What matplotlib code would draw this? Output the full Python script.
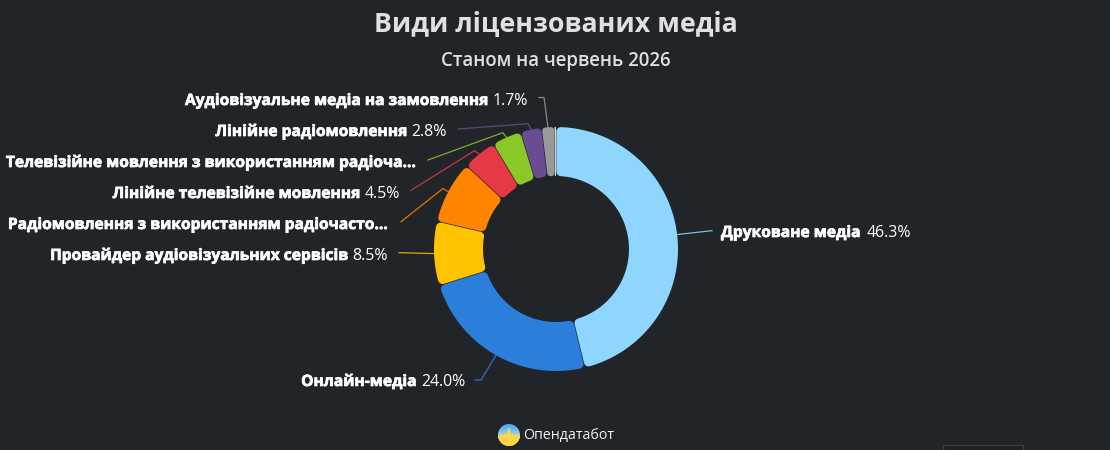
import math
import numpy as np
import matplotlib
matplotlib.use('Agg')
import matplotlib.pyplot as plt
import matplotlib.patheffects as pe
from matplotlib.colors import LinearSegmentedColormap
from matplotlib.patches import Circle, Polygon, Rectangle

BG = '#212429'
plt.rcParams['font.family'] = ['Open Sans', 'DejaVu Sans']

categories = [
    'Друковане медіа',
    'Онлайн-медіа',
    'Провайдер аудіовізуальних сервісів',
    'Радіомовлення з використанням радіочасто...',
    'Лінійне телевізійне мовлення',
    'Телевізійне мовлення з використанням радіоча...',
    'Лінійне радіомовлення',
    'Аудіовізуальне медіа на замовлення',
    'Інше',
]
shares = [46.3, 24.0, 8.5, 8.3, 4.5, 3.9, 2.8, 1.7, 0.2]
show_share = [True, True, True, False, True, False, True, True, False]
colors = ['#8fd6ff', '#2b7fdb', '#ffc300', '#ff8500', '#e63946',
          '#8ac926', '#6a4c93', '#999999', '#d9d9d9']

# label baseline anchor (x, y) per slice, and the leader polyline from label to ring
label_pos = [(721, 237), (465, 386), (388, 260), (388, 229), (400, 198),
             (416, 167), (447, 136), (528, 105), None]
leaders = [
    [(712, 230.7)],
    [(475, 380), (481, 380)],
    [(399, 252.7)],
    [(401, 221.7), (443, 188.5)],
    [(411, 190.3), (474.5, 150.7)],
    [(428, 160), (502.7, 132.7)],
    [(458, 129), (528.3, 123.7)],
    [(539, 97.5), (544, 97.5)],
    None,
]

CX, CY = 556, 249
R_OUT, R_IN = 122, 73
CORNER = 4.5
NAME_SIZE = 11.2
VALUE_SIZE = 11.4


def ring_point(angle, r):
    return CX + r * math.cos(angle), CY + r * math.sin(angle)


def rounded_slice(a1, a2):
    # inset outline; a thick round-joined edge brings it back to full size
    half = (a2 - a1) * R_IN / 2
    gap = min(0.35, 0.15 * half)
    rc = min(CORNER, max((half - gap) * 0.9, 0.2))
    off = rc + gap
    ro, ri = R_OUT - rc, R_IN + rc
    do, di = math.asin(off / ro), math.asin(off / ri)
    outer = np.linspace(a1 + do, a2 - do, 60)
    inner = np.linspace(a2 - di, a1 + di, 40)
    pts = [ring_point(a, ro) for a in outer] + [ring_point(a, ri) for a in inner]
    return pts, rc


def name_text(x, y, s, ha):
    t = ax.text(x, y, s, ha=ha, va='baseline', color='white', fontsize=NAME_SIZE,
                fontweight='bold', zorder=5)
    t.set_path_effects([pe.withStroke(linewidth=0.5, foreground='white')])
    return t


fig = plt.figure(figsize=(11.1, 4.5), dpi=100, facecolor=BG)
ax = fig.add_axes([0, 0, 1, 1])
ax.set_xlim(0, 1110)
ax.set_ylim(450, 0)
ax.axis('off')

edges = np.cumsum([0] + shares) / sum(shares) * 2 * math.pi - math.pi / 2

for i, c in enumerate(colors):
    pts, rc = rounded_slice(edges[i], edges[i + 1])
    ax.add_patch(Polygon(pts, closed=True, facecolor=c, edgecolor=c,
                         linewidth=2 * rc * 72 / 100, joinstyle='round', zorder=3))

    if leaders[i] is None:
        continue
    end = ring_point((edges[i] + edges[i + 1]) / 2, R_OUT)
    line = leaders[i] + [end]
    ax.plot([p[0] for p in line], [p[1] for p in line], color=c, lw=0.9,
            alpha=0.85, zorder=2, solid_joinstyle='miter')

# data labels: bold name plus regular percentage
renderer = fig.canvas.get_renderer()
for i, pos in enumerate(label_pos):
    if pos is None:
        continue
    x, y = pos
    value = '%.1f%%' % shares[i]
    if x > CX:
        w = name_text(x, y, categories[i], 'left').get_window_extent(renderer).width
        ax.text(x + w + 6, y, value, ha='left', va='baseline', color='white',
                fontsize=VALUE_SIZE, zorder=5)
    elif show_share[i]:
        val = ax.text(x, y, value, ha='right', va='baseline', color='white',
                      fontsize=VALUE_SIZE, zorder=5)
        w = val.get_window_extent(renderer).width
        name_text(x - w - 4, y, categories[i], 'right')
    else:
        name_text(x, y, categories[i], 'right')

ax.text(556, 25, 'Види ліцензованих медіа', ha='center', va='center',
        color='#e0e0e3', fontsize=19.3, fontweight='bold')
ax.text(556, 61, 'Станом на червень 2026', ha='center', va='center',
        color='#e0e0e3', fontsize=13.4, fontweight='semibold')

# logo
clip = Circle((509, 435), 11, transform=ax.transData)
grad = np.linspace(0, 1, 32).reshape(-1, 1)
logo_cmap = LinearSegmentedColormap.from_list('logo', ['#3fa9f5', '#7cc4f0', '#ffe27a', '#f5b921'])
img = ax.imshow(grad, extent=(498, 520, 446, 424), cmap=logo_cmap, aspect='auto', zorder=4)
img.set_clip_path(clip)
ax.set_xlim(0, 1110)
ax.set_ylim(450, 0)
pulse = ax.fill([498, 503, 505, 507, 509, 511, 513, 515, 520, 520, 498],
                [437, 437, 434, 436, 428, 438, 434, 437, 436, 446, 446],
                color='#fdd64a', zorder=4)[0]
pulse.set_clip_path(clip)
ax.text(523.5, 435, 'Опендатабот', ha='left', va='center', color='#f2f2f2',
        fontsize=10.2, zorder=5)

# bottom-right box, cut by the lower edge
ax.add_patch(Rectangle((942.5, 444.5), 80, 10, facecolor='#1f2125',
                       edgecolor='#3c3e42', lw=0.8, clip_on=True))

fig.savefig('out.png', dpi=100, facecolor=BG)
